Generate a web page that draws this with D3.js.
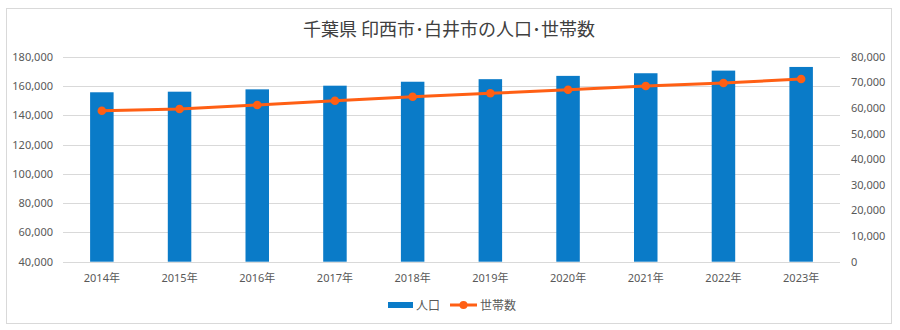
<!DOCTYPE html>
<html><head><meta charset="utf-8">
<script src="https://cdn.jsdelivr.net/npm/d3@7"></script>
<style>body{margin:0;background:#fff;}svg{display:block;font-family:"Noto Sans","Noto Sans CJK JP",sans-serif;}</style>
</head><body><svg id="c" width="900" height="330"></svg>
<script>
const years = ["2014年","2015年","2016年","2017年","2018年","2019年","2020年","2021年","2022年","2023年"];
const population = [155700,156100,157700,160200,162900,164650,166900,168700,170500,173000];
const households = [58900,59600,61150,62830,64390,65720,67120,68570,69740,71300];
const leftTicks = [40000,60000,80000,100000,120000,140000,160000,180000];
const rightTicks = [0,10000,20000,30000,40000,50000,60000,70000,80000];
const title = "千葉県 印西市･白井市の人口･世帯数";
const legendLabels = ["人口","世帯数"];

const svg = d3.select("#c");
const blue = "#0A7BC8", orange = "#FF5F14", textC = "#595959", grid = "#D9D9D9";
svg.append("rect").attr("x",6.5).attr("y",8.5).attr("width",885).attr("height",315)
  .attr("fill","#fff").attr("stroke","#D9D9D9");

const x = d3.scaleBand().domain(years).range([63,840]);
const yL = d3.scaleLinear().domain([40000,180000]).range([261.7,56.7]);
const yR = d3.scaleLinear().domain([0,80000]).range([261.7,56.7]);
const fmt = d3.format(",");

svg.append("text").attr("x",449).attr("y",36).attr("text-anchor","middle")
  .attr("font-size",18).attr("fill","#404040").attr("font-family","'Noto Sans CJK JP',sans-serif").text(title);

// grid
svg.append("g").selectAll("line").data(leftTicks).join("line")
  .attr("x1",63).attr("x2",840).attr("y1",d=>Math.round(yL(d))+0.5).attr("y2",d=>Math.round(yL(d))+0.5)
  .attr("stroke",grid).attr("stroke-width",1);

// left axis
const gl = svg.append("g").attr("transform","translate(53,0)")
  .call(d3.axisLeft(yL).tickValues(leftTicks).tickFormat(fmt).tickSize(0).tickPadding(0));
gl.select(".domain").remove();
gl.selectAll("text").attr("font-size",11).attr("fill",textC).attr("font-family","'Noto Sans',sans-serif");

// right axis
const gr = svg.append("g").attr("transform","translate(851,0)")
  .call(d3.axisRight(yR).tickValues(rightTicks).tickFormat(fmt).tickSize(0).tickPadding(0));
gr.select(".domain").remove();
gr.selectAll("text").attr("font-size",11).attr("fill",textC).attr("font-family","'Noto Sans',sans-serif");

// bottom axis
const gb = svg.append("g").attr("transform","translate(0,270)")
  .call(d3.axisBottom(x).tickSize(0).tickPadding(4));
gb.select(".domain").remove();
gb.selectAll("text").attr("font-size",11).attr("fill",textC).attr("font-family","'Noto Sans','Noto Sans CJK JP',sans-serif");

// bars
const bw = 23.5;
svg.append("g").selectAll("rect").data(years).join("rect")
  .attr("x",(d)=>x(d)+x.bandwidth()/2-bw/2).attr("width",bw)
  .attr("y",(d,i)=>yL(population[i])).attr("height",(d,i)=>yL(40000)-yL(population[i]))
  .attr("fill",blue);

// line
const line = d3.line().x((d,i)=>x(years[i])+x.bandwidth()/2).y(d=>yR(d));
svg.append("path").datum(households).attr("d",line).attr("fill","none")
  .attr("stroke",orange).attr("stroke-width",3).attr("stroke-linejoin","round");
svg.append("g").selectAll("circle").data(households).join("circle")
  .attr("cx",(d,i)=>x(years[i])+x.bandwidth()/2).attr("cy",d=>yR(d)).attr("r",4.3).attr("fill",orange);

// legend
const lg = svg.append("g");
lg.append("rect").attr("x",388).attr("y",302).attr("width",25).attr("height",6).attr("fill",blue);
lg.append("text").attr("x",416).attr("y",309.5).attr("font-size",12).attr("fill",textC)
  .attr("font-family","'Noto Sans CJK JP',sans-serif").text(legendLabels[0]);
lg.append("line").attr("x1",450).attr("x2",477).attr("y1",305).attr("y2",305).attr("stroke",orange).attr("stroke-width",3);
lg.append("circle").attr("cx",463.5).attr("cy",305).attr("r",4).attr("fill",orange);
lg.append("text").attr("x",480).attr("y",309.5).attr("font-size",12).attr("fill",textC)
  .attr("font-family","'Noto Sans CJK JP',sans-serif").text(legendLabels[1]);
</script></body></html>
